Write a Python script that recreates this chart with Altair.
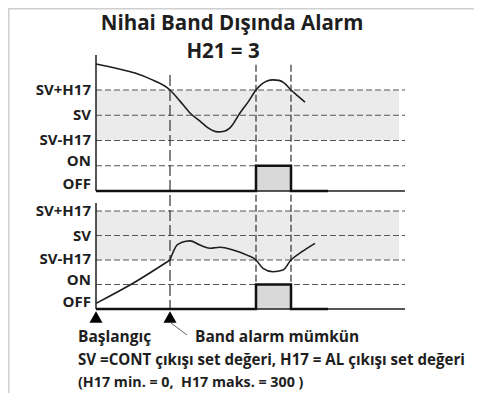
import altair as alt
import pandas as pd

# ---------------- data (time in arbitrary units, levels 0..4) ----------------
TITLE = "Nihai Band Dışında Alarm"
SUBTITLE = "H21 = 3"
LEVEL_LABELS = ["OFF", "ON", "SV-H17", "SV", "SV+H17"]   # level 0..4
DASHED_LEVELS = [1, 2, 3, 4]
BAND_LOW, BAND_HIGH = 2, 4

T_ENABLE = 74
T_ALARM_ON = 160
T_ALARM_OFF = 195
T_AXIS_END = 309
T_BAND_END = 303
T_MARKERS = [0, 74]

TOP_T = [0, 19, 39, 54, 74, 84, 94, 104, 111, 122, 129, 134, 144, 152, 160, 166, 171, 177, 183, 188, 195, 202, 209]
TOP_V = [5.03, 4.87, 4.67, 4.44, 4.0, 3.56, 3.09, 2.77, 2.53, 2.34, 2.38, 2.50, 3.09, 3.52, 4.0, 4.24, 4.36, 4.40, 4.38, 4.28, 4.0, 3.76, 3.52]
RAMP_T = [0, 37, 74]
RAMP_V = [0.23, 1.05, 2.0]
BOT_T = [74, 81, 86, 94, 104, 114, 124, 137, 151, 160, 167, 177, 187, 195, 206, 219]
BOT_V = [2.0, 2.61, 2.72, 2.78, 2.61, 2.48, 2.52, 2.41, 2.20, 2.0, 1.66, 1.52, 1.59, 2.0, 2.34, 2.68]
SIGNAL_T = [0, 160, 160, 195, 195, 232]
SIGNAL_V = [0, 0, 1, 1, 0, 0]

NOTE_START = "Başlangıç"
NOTE_ENABLE = "Band alarm mümkün"
NOTE_1 = "SV =CONT çıkışı set değeri, H17 = AL çıkışı set değeri"
NOTE_2 = "(H17 min. = 0,\u00a0 H17 maks. = 300 )"

# ---------------- layout ----------------
W, H = 466, 385
X0 = 88
PANELS = {"top": (183.0, 25.25, 5.39, 4.59, 5.0), "bottom": (301.0, 24.5, 4.33, 0, 0)}
FONT = "Open Sans"
INK = "#1e1e1e"


def X(t):
    return X0 + t


def Y(panel, lv):
    base, step = PANELS[panel][0], PANELS[panel][1]
    return base - step * lv


xs = alt.Scale(domain=[0, W], nice=False, zero=False)
ys = alt.Scale(domain=[H, 0], nice=False, zero=False)


def ex(f="x"):
    return alt.X(f"{f}:Q", scale=xs, axis=None)


def ey(f="y"):
    return alt.Y(f"{f}:Q", scale=ys, axis=None)


panels = ["top", "bottom"]

band = pd.DataFrame([{"x": X(0), "x2": X(T_BAND_END), "y": Y(p, BAND_HIGH), "y2": Y(p, BAND_LOW)} for p in panels])
pulse = pd.DataFrame([{"x": X(T_ALARM_ON), "x2": X(T_ALARM_OFF), "y": Y(p, 1), "y2": Y(p, 0)} for p in panels])
dashed = pd.DataFrame([{"x": X(0), "x2": X(T_AXIS_END), "y": Y(p, l)} for p in panels for l in DASHED_LEVELS])
vline_enable = pd.DataFrame([{"x": X(T_ENABLE), "y": Y("top", PANELS["top"][3]), "y2": Y("bottom", 0)}])
vline_alarm = pd.DataFrame([{"x": X(t), "y": Y("top", PANELS["top"][4]), "y2": Y("bottom", 0)} for t in [T_ALARM_ON, T_ALARM_OFF]])
axis_v = pd.DataFrame([{"x": X(0), "y": Y(p, PANELS[p][2]), "y2": Y(p, 0)} for p in panels])
axis_h = pd.DataFrame([{"x": X(0), "x2": X(T_AXIS_END), "y": Y(p, 0)} for p in panels])

sig_rows, curve_rows = [], []
for p in panels:
    for i, (t, v) in enumerate(zip(SIGNAL_T, SIGNAL_V)):
        sig_rows.append({"panel": p, "i": i, "x": X(t), "y": Y(p, v)})
for seg, p, ts, vs in [("top", "top", TOP_T, TOP_V), ("ramp", "bottom", RAMP_T, RAMP_V), ("bottom", "bottom", BOT_T, BOT_V)]:
    for i, (t, v) in enumerate(zip(ts, vs)):
        curve_rows.append({"seg": seg, "i": i, "x": X(t), "y": Y(p, v)})
signal = pd.DataFrame(sig_rows)
curve = pd.DataFrame(curve_rows)

tri = pd.DataFrame([{"x": X(t), "y": Y("bottom", 0) + 8} for t in T_MARKERS])
diag = pd.DataFrame([{"x": X(T_ENABLE) + 1, "y": Y("bottom", 0) + 14, "x2": X(T_ENABLE) + 17, "y2": Y("bottom", 0) + 26}])

LABEL_DY = {"OFF": -7.5, "ON": -4.5, "SV-H17": -1}
lab_rows = []
for p in panels:
    for lv, name in enumerate(LEVEL_LABELS):
        lab_rows.append({"x": X(0) - 5, "y": Y(p, lv) + LABEL_DY.get(name, 0), "t": name})
labels = pd.DataFrame(lab_rows)

titles = pd.DataFrame([{"x": 224, "y": 15.5, "t": TITLE}, {"x": 215, "y": 43.5, "t": SUBTITLE}])
notes = pd.DataFrame([
    {"x": 70, "y": 329, "t": NOTE_START, "fs": 15.5},
    {"x": 187, "y": 329, "t": NOTE_ENABLE, "fs": 15.5},
    {"x": 70, "y": 352, "t": NOTE_1, "fs": 15.1},
    {"x": 70, "y": 375, "t": NOTE_2, "fs": 14.3},
])
frame_h = pd.DataFrame([{"x": 0, "x2": W, "y": 0.5}])
frame_v = pd.DataFrame([{"x": 0.5, "y": 0, "y2": H}])

layers = [
    alt.Chart(frame_h).mark_rule(color="#cfcfcf", strokeWidth=2).encode(x=ex(), x2="x2", y=ey()),
    alt.Chart(frame_v).mark_rule(color="#cfcfcf", strokeWidth=2).encode(x=ex(), y=ey(), y2="y2"),
    alt.Chart(band).mark_rect(color="#ebebeb").encode(x=ex(), x2="x2", y=ey(), y2="y2"),
    alt.Chart(pulse).mark_rect(color="#d9d9d9").encode(x=ex(), x2="x2", y=ey(), y2="y2"),
    alt.Chart(dashed).mark_rule(color="#555555", strokeWidth=1.2, strokeDash=[6, 3]).encode(x=ex(), x2="x2", y=ey()),
    alt.Chart(vline_enable).mark_rule(color="#333333", strokeWidth=1.2, strokeDash=[11, 4]).encode(x=ex(), y=ey(), y2="y2"),
    alt.Chart(vline_alarm).mark_rule(color="#333333", strokeWidth=1.2, strokeDash=[7, 3]).encode(x=ex(), y=ey(), y2="y2"),
    alt.Chart(axis_v).mark_rule(color=INK, strokeWidth=1.5).encode(x=ex(), y=ey(), y2="y2"),
    alt.Chart(axis_h).mark_rule(color=INK, strokeWidth=1.5).encode(x=ex(), x2="x2", y=ey()),
    alt.Chart(signal).mark_line(color="#111111", strokeWidth=2.5, strokeJoin="miter").encode(
        x=ex(), y=ey(), detail="panel:N", order="i:Q"),
    alt.Chart(curve).mark_line(color=INK, strokeWidth=1.6, interpolate="monotone").encode(
        x=ex(), y=ey(), detail="seg:N", order="i:Q"),
    alt.Chart(tri).mark_point(shape="triangle-up", size=170, filled=True, color="#000000", opacity=1).encode(
        x=ex(), y=ey()),
    alt.Chart(diag).mark_rule(color="#666666", strokeWidth=1).encode(x=ex(), y=ey(), x2="x2", y2="y2"),
    alt.Chart(labels).mark_text(align="right", baseline="middle", font=FONT, fontSize=15, fontWeight="bold",
                                color=INK).encode(x=ex(), y=ey(), text="t:N"),
    alt.Chart(titles).mark_text(align="center", baseline="middle", font=FONT, fontSize=20.5, fontWeight="bold",
                                color=INK).encode(x=ex(), y=ey(), text="t:N"),
    alt.Chart(notes).mark_text(align="left", baseline="middle", font=FONT, fontWeight="bold",
                               color=INK).encode(x=ex(), y=ey(), text="t:N", size=alt.Size("fs:Q", scale=None)),
]

chart = alt.layer(*layers).properties(
    width=W, height=H, autosize=alt.AutoSizeParams(type="none"), padding=0
).configure_view(stroke=None)

chart.save("out.html", embed_options={"renderer": "svg", "actions": False})
